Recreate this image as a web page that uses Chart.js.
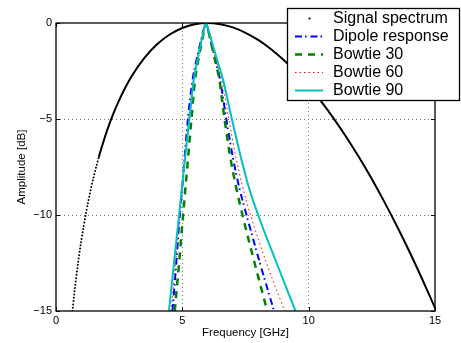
<!DOCTYPE html>
<html lang="en">
<head>
  <meta charset="UTF-8" />
  <title>Signal spectrum and antenna responses</title>
  <style>
    html, body {
      margin: 0;
      padding: 0;
      background: #fff;
    }
    #wrap {
      width: 461px;
      height: 343px;
    }
  </style>
</head>
<body>

<div id="wrap">
  <canvas id="spectrumChart" width="461" height="343"></canvas>
</div>

<script src="https://cdn.jsdelivr.net/npm/chart.js"></script>
<script>
  // Axis ticks
  const xTicks = [0, 5, 10, 15];
  const yTicks = [-15, -10, -5, 0];

  // Signal spectrum: frequency [GHz] / amplitude [dB]
  const signalFreq = [0.65, 0.7, 0.75, 0.8, 0.9, 1.0, 1.1, 1.2, 1.3, 1.4, 1.5, 1.6, 1.7, 1.8, 2.0, 2.25, 2.5, 2.75,
    3.0, 3.5, 4.0, 4.5, 5.0, 5.5, 6.0, 6.5, 7.0, 7.5, 8.0, 8.5, 9.0, 9.5, 10.0, 10.5, 11.0, 11.5, 12.0, 12.5,
    13.0, 13.5, 14.0, 14.5, 15.0];
  const signalAmp = [-15.0, -14.38, -13.79, -13.24, -12.23, -11.34, -10.54, -9.81, -9.15, -8.53, -7.97, -7.45, -6.96,
    -6.51, -5.68, -4.79, -4.02, -3.35, -2.76, -1.82, -1.11, -0.60, -0.26, -0.06, 0, -0.06, -0.23, -0.51, -0.88,
    -1.35, -1.91, -2.55, -3.28, -4.10, -4.99, -5.96, -7.01, -8.13, -9.33, -10.60, -11.94, -13.36, -14.84];

  // Antenna responses, amplitude levels [dB] shared by all four curves
  const responseAmp = [-15, -12.5, -10, -8.5, -7, -5, -3, -1.8, -0.8, -0.25, 0,
    -0.25, -0.8, -1.8, -3, -5, -7, -8.5, -10, -12.5, -15];
  const dipoleFreq = [4.61, 4.76, 4.90, 5.00, 5.09, 5.22, 5.40, 5.58, 5.76, 5.86, 5.93,
    6.00, 6.10, 6.28, 6.50, 6.74, 7.00, 7.24, 7.54, 8.07, 8.63];
  const bowtie30Freq = [4.70, 4.87, 5.03, 5.13, 5.23, 5.36, 5.50, 5.65, 5.80, 5.88, 5.93,
    6.00, 6.10, 6.27, 6.47, 6.67, 6.90, 7.12, 7.38, 7.86, 8.36];
  const bowtie60Freq = [4.55, 4.73, 4.90, 5.01, 5.11, 5.25, 5.43, 5.60, 5.77, 5.87, 5.93,
    6.01, 6.11, 6.30, 6.57, 6.84, 7.12, 7.38, 7.70, 8.33, 9.05];
  const bowtie90Freq = [4.47, 4.67, 4.87, 4.99, 5.11, 5.28, 5.45, 5.62, 5.78, 5.87, 5.93,
    6.01, 6.13, 6.35, 6.62, 6.96, 7.32, 7.62, 8.00, 8.73, 9.48];

  const FONT = '"Liberation Sans", Arial, Helvetica, sans-serif';

  function points(xs, ys) {
    return xs.map((x, i) => ({ x: x, y: ys[i] }));
  }

  // Box round the axes, with matlab style inward ticks
  const framePlugin = {
    id: 'frame',
    afterDatasetsDraw(chart) {
      const { ctx, chartArea: a, scales: { x, y } } = chart;
      ctx.save();
      ctx.strokeStyle = '#000';
      ctx.lineWidth = 1;
      ctx.beginPath();
      xTicks.forEach(v => {
        const px = Math.round(x.getPixelForValue(v)) + 0.5;
        ctx.moveTo(px, a.bottom); ctx.lineTo(px, a.bottom - 4);
        ctx.moveTo(px, a.top); ctx.lineTo(px, a.top + 4);
      });
      yTicks.forEach(v => {
        const py = Math.round(y.getPixelForValue(v)) + 0.5;
        ctx.moveTo(a.left, py); ctx.lineTo(a.left + 4, py);
        ctx.moveTo(a.right, py); ctx.lineTo(a.right - 4, py);
      });
      ctx.stroke();
      ctx.lineWidth = 1.3;
      ctx.strokeRect(a.left, a.top, a.right - a.left, a.bottom - a.top);
      ctx.restore();
    }
  };

  // Legend box in the top right corner, overlapping the axes
  const legendPlugin = {
    id: 'boxLegend',
    afterDraw(chart) {
      const ctx = chart.ctx;
      const left = 287.5, top = 8.5, w = 172, h = 92;
      ctx.save();
      ctx.fillStyle = '#fff';
      ctx.fillRect(left, top, w, h);
      ctx.strokeStyle = '#000';
      ctx.lineWidth = 1.3;
      ctx.strokeRect(left, top, w, h);
      ctx.font = '16px ' + FONT;
      ctx.textBaseline = 'middle';
      chart.data.datasets.forEach((ds, i) => {
        const cy = top + 10 + i * 18;
        if (ds.legendDot) {
          ctx.fillStyle = ds.borderColor;
          ctx.beginPath();
          ctx.arc(309.5, cy, 1.1, 0, Math.PI * 2);
          ctx.fill();
        } else {
          ctx.strokeStyle = ds.borderColor;
          ctx.lineWidth = ds.borderWidth;
          ctx.setLineDash(ds.borderDash || []);
          ctx.beginPath();
          ctx.moveTo(295, cy);
          ctx.lineTo(323, cy);
          ctx.stroke();
          ctx.setLineDash([]);
        }
        ctx.fillStyle = '#000';
        ctx.fillText(ds.label, 333, cy);
      });
      ctx.restore();
    }
  };

  const ctx = document.getElementById('spectrumChart').getContext('2d');
  new Chart(ctx, {
    type: 'line',
    data: {
      datasets: [{
        label: 'Signal spectrum',
        data: points(signalFreq, signalAmp),
        borderColor: '#000',
        borderWidth: 2,
        borderCapStyle: 'round',
        legendDot: true,
        cubicInterpolationMode: 'monotone',
        // dotted where the samples spread out on the steep flank
        segment: {
          borderDash: c => c.p0.parsed.x < 1.7 ? [0, 3.3] : undefined
        },
        order: 5
      }, {
        label: 'Dipole response',
        data: points(dipoleFreq, responseAmp),
        borderColor: '#0000ff',
        borderWidth: 2,
        borderDash: [7, 3, 1.5, 4],
        cubicInterpolationMode: 'monotone',
        order: 4
      }, {
        label: 'Bowtie 30',
        data: points(bowtie30Freq, responseAmp),
        borderColor: '#008000',
        borderWidth: 2.5,
        borderDash: [7, 6],
        cubicInterpolationMode: 'monotone',
        order: 3
      }, {
        label: 'Bowtie 60',
        data: points(bowtie60Freq, responseAmp),
        borderColor: '#ff0000',
        borderWidth: 1,
        borderDash: [1.5, 3],
        cubicInterpolationMode: 'monotone',
        order: 2
      }, {
        label: 'Bowtie 90',
        data: points(bowtie90Freq, responseAmp),
        borderColor: '#00bfbf',
        borderWidth: 2,
        cubicInterpolationMode: 'monotone',
        order: 1
      }]
    },
    options: {
      responsive: false,
      animation: false,
      devicePixelRatio: 1,
      elements: { point: { radius: 0 } },
      layout: { padding: { top: 23, right: 26, bottom: 0, left: 0 } },
      plugins: {
        legend: { display: false },
        tooltip: { enabled: false }
      },
      scales: {
        x: {
          type: 'linear',
          min: 0,
          max: 15,
          afterBuildTicks: s => { s.ticks = xTicks.map(v => ({ value: v })); },
          afterFit: s => { s.height = 32; },
          grid: {
            color: c => (c.tick && (c.tick.value === 0 || c.tick.value === 15)) ? 'rgba(0,0,0,0)' : '#777',
            lineWidth: 1,
            drawTicks: false
          },
          border: { display: false, dash: [1, 3] },
          ticks: {
            color: '#000',
            font: { family: FONT, size: 11 },
            padding: 3,
            maxRotation: 0
          },
          title: {
            display: true,
            text: 'Frequency [GHz]',
            color: '#000',
            font: { family: FONT, size: 11.5 },
            padding: { top: 0, bottom: 3 }
          }
        },
        y: {
          type: 'linear',
          min: -15,
          max: 0,
          afterBuildTicks: s => { s.ticks = yTicks.map(v => ({ value: v })); },
          afterFit: s => { s.width = 56; },
          grid: {
            color: c => (c.tick && (c.tick.value === 0 || c.tick.value === -15)) ? 'rgba(0,0,0,0)' : '#777',
            lineWidth: 1,
            drawTicks: false
          },
          border: { display: false, dash: [1, 3] },
          ticks: {
            color: '#000',
            font: { family: FONT, size: 11 },
            padding: 4,
            callback: v => String(v).replace('-', '\u2212')
          },
          title: {
            display: true,
            text: 'Amplitude [dB]',
            color: '#000',
            font: { family: FONT, size: 11.5 },
            padding: { top: 15, bottom: 0 }
          }
        }
      }
    },
    plugins: [framePlugin, legendPlugin]
  });
</script>

</body>
</html>
